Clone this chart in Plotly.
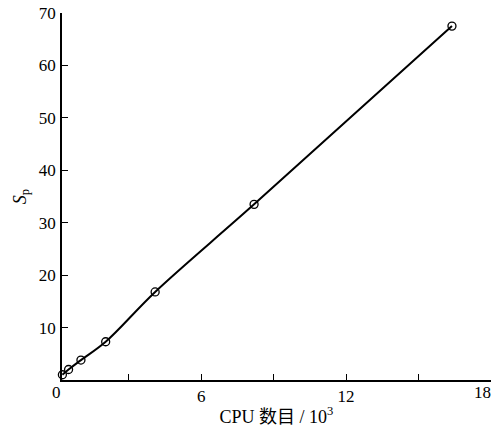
import plotly.graph_objects as go

cpu_k = [0.256, 0.512, 1.024, 2.048, 4.096, 8.192, 16.384]
speedup = [1.0, 2.0, 3.8, 7.3, 16.8, 33.5, 67.5]

x_range = [0.24, 18]
x_tickvals = [6, 12]
x_ticktext = ["6", "12"]
x_edge_labels = [0, 18]
y_tickvals = [10, 20, 30, 40, 50, 60, 70]
y_ticktext = ["10", "20", "30", "40", "50", "60", "70"]

serif = "Liberation Serif, Times New Roman, Noto Sans CJK SC, serif"
tick_font = dict(family=serif, size=17, color="black")


def xpaper(v):
    return (v - x_range[0]) / (x_range[1] - x_range[0])


fig = go.Figure()
fig.add_trace(go.Scatter(
    x=cpu_k, y=speedup, mode="lines+markers",
    line=dict(color="black", width=2, shape="spline", smoothing=1.0),
    marker=dict(symbol="circle-open", size=8, color="black", line=dict(width=1.3)),
    showlegend=False, cliponaxis=False,
))

fig.update_layout(
    width=496, height=427,
    margin=dict(l=62, r=5, t=13, b=47),
    paper_bgcolor="white", plot_bgcolor="white",
    font=dict(family=serif, size=17, color="black"),
    xaxis=dict(
        range=x_range, showgrid=False, zeroline=False, automargin=False,
        showline=True, linecolor="black", linewidth=1.5,
        ticks="inside", ticklen=6, tickwidth=1.2, tickcolor="black",
        tickvals=x_tickvals, ticktext=x_ticktext, tickfont=tick_font,
        minor=dict(dtick=3, tick0=0, ticks="inside", ticklen=6, tickwidth=1.2,
                   tickcolor="black", showgrid=False),
        title=dict(text="CPU 数目 / 10<sup>3</sup>", font=dict(size=18), standoff=6),
    ),
    yaxis=dict(
        range=[0, 70], showgrid=False, zeroline=False, automargin=False,
        showline=True, linecolor="black", linewidth=1.5,
        ticks="inside", ticklen=6, tickwidth=1.2, tickcolor="black",
        tickvals=y_tickvals, ticktext=y_ticktext, ticklabelstandoff=1,
        tickfont=tick_font,
        title=dict(text="<i>S</i><sub>p</sub>", font=dict(size=18), standoff=8),
    ),
    annotations=[
        dict(x=xpaper(x_edge_labels[0]), y=0, xref="paper", yref="paper",
             text=str(x_edge_labels[0]), showarrow=False,
             xanchor="center", yanchor="top", yshift=-1, font=tick_font),
        dict(x=xpaper(x_edge_labels[1]), y=0, xref="paper", yref="paper",
             text=str(x_edge_labels[1]), showarrow=False,
             xanchor="right", yanchor="top", yshift=-1, xshift=2, font=tick_font),
    ],
)

fig.write_html("out.html", config={"displayModeBar": False},
               post_script="document.body.style.margin='0';")
